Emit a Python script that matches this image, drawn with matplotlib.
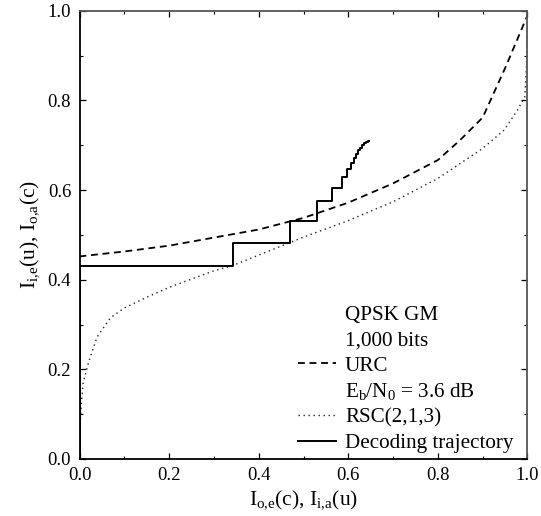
import matplotlib
matplotlib.use("Agg")
import matplotlib.pyplot as plt
from matplotlib.lines import Line2D
from matplotlib.ticker import MultipleLocator

plt.rcParams['font.family'] = ['Liberation Serif', 'DejaVu Serif']
plt.rcParams['mathtext.fontset'] = 'custom'
plt.rcParams['mathtext.rm'] = 'Liberation Serif'
plt.rcParams['mathtext.it'] = 'Liberation Serif:italic'
plt.rcParams['mathtext.bf'] = 'Liberation Serif:bold'

# URC EXIT curve
urc_x = [0.0, 0.1, 0.2, 0.3, 0.4, 0.5, 0.6, 0.7, 0.8, 0.85, 0.9, 0.95, 1.0]
urc_y = [0.452, 0.463, 0.476, 0.494, 0.512, 0.538, 0.572, 0.615, 0.667, 0.712, 0.762, 0.872, 0.990]

# RSC(2,1,3) EXIT curve (axes swapped)
rsc_x = [0.0, 0.001, 0.004, 0.008, 0.02, 0.039, 0.069, 0.1, 0.146, 0.2, 0.3, 0.343,
         0.4, 0.47, 0.5, 0.6, 0.7, 0.8, 0.9, 0.948, 0.978, 0.994, 0.998, 1.0]
rsc_y = [0.0, 0.07, 0.12, 0.17, 0.215, 0.272, 0.315, 0.337, 0.359, 0.383, 0.42, 0.432,
         0.455, 0.483, 0.495, 0.532, 0.574, 0.626, 0.693, 0.734, 0.779, 0.808, 0.88, 0.99]

# Decoding trajectory (staircase vertices)
traj_x = [0.0, 0.0, 0.343, 0.343, 0.47, 0.47, 0.531, 0.531, 0.563, 0.563, 0.585, 0.585,
          0.597, 0.597, 0.606, 0.606, 0.612, 0.612, 0.617, 0.617, 0.622, 0.622,
          0.627, 0.627, 0.631, 0.631, 0.635, 0.635, 0.639, 0.639, 0.643, 0.643, 0.647]
traj_y = [0.0, 0.431, 0.431, 0.482, 0.482, 0.532, 0.532, 0.576, 0.576, 0.605, 0.605, 0.629,
          0.629, 0.646, 0.646, 0.661, 0.661, 0.672, 0.672, 0.681, 0.681, 0.689,
          0.689, 0.695, 0.695, 0.700, 0.700, 0.704, 0.704, 0.707, 0.707, 0.709, 0.709]

legend_labels = ["QPSK GM", "1,000 bits", "URC", r"E$_\mathrm{b}$/N$_0$ = 3.6 dB",
                 "RSC(2,1,3)", "Decoding trajectory"]

fig = plt.figure(figsize=(5.41, 5.16), dpi=100)
ax = fig.add_axes([0.147, 0.1105, 0.828, 0.8685])

ax.plot(urc_x, urc_y, color='black', lw=1.3, linestyle=(0, (3.8, 2.6)))
ax.plot(rsc_x, rsc_y, color='#222222', lw=1.0, linestyle=(0, (1, 2.6)))
ax.plot(traj_x, traj_y, color='black', lw=1.4)

ax.set_xlim(0, 1)
ax.set_ylim(0, 1)
ax.xaxis.set_major_locator(MultipleLocator(0.2))
ax.yaxis.set_major_locator(MultipleLocator(0.2))
ax.xaxis.set_minor_locator(MultipleLocator(0.1))
ax.yaxis.set_minor_locator(MultipleLocator(0.1))
ax.xaxis.set_major_formatter(lambda v, p: f"{v:.1f}")
ax.yaxis.set_major_formatter(lambda v, p: f"{v:.1f}")
ax.tick_params(which='both', direction='in', top=True, right=True, labelsize=13.5, pad=6)
ax.tick_params(which='major', length=4, width=0.9)
ax.tick_params(which='minor', length=2.5, width=0.8)

for s in ['left', 'bottom']:
    ax.spines[s].set_linewidth(1.3)
    ax.spines[s].set_color('black')
for s in ['top', 'right']:
    ax.spines[s].set_linewidth(1.3)
    ax.spines[s].set_color('#555555')

ax.set_xlabel(r"I$_\mathrm{o{,}e}$(c), I$_\mathrm{i{,}a}$(u)", fontsize=15.5, labelpad=3)
ax.set_ylabel(r"I$_\mathrm{i{,}e}$(u), I$_\mathrm{o{,}a}$(c)", fontsize=15.5, labelpad=5)

blank = Line2D([], [], linestyle='none')
handles = [blank, blank,
           Line2D([], [], color='black', lw=1.3, linestyle=(0, (3.8, 2.6))),
           blank,
           Line2D([], [], color='#222222', lw=1.0, linestyle=(0, (1, 2.6))),
           Line2D([], [], color='black', lw=1.4)]
ax.legend(handles, legend_labels, loc='upper left', bbox_to_anchor=(0.488, 0.344),
          frameon=False, fontsize=15.2, borderaxespad=0, borderpad=0,
          handlelength=1.8, handletextpad=0.42, labelspacing=0.27)

fig.savefig("out.png", dpi=100)
